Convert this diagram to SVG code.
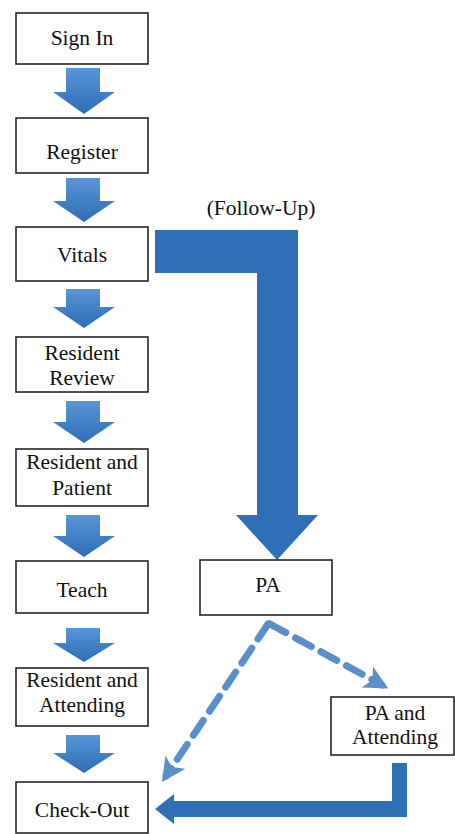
<svg xmlns="http://www.w3.org/2000/svg" width="455" height="834" viewBox="0 0 455 834">
<style>
.box{fill:#fff;stroke:#262626;stroke-width:1.6}
.t{font-family:"Times New Roman",Times,Tinos,"Nimbus Roman","Nimbus Roman No9 L","Noto Serif","DejaVu Serif",FreeSerif,"Liberation Serif",serif;font-size:21.5px;fill:#111;text-anchor:middle}
.arr{fill:url(#g)}
.big{fill:#2f6fb5}
.dash{fill:none;stroke:#5b8fcb;stroke-width:7;stroke-dasharray:18 11;stroke-linecap:round}
</style>
<defs>
<linearGradient id="g" x1="0" y1="0" x2="0" y2="1">
<stop offset="0" stop-color="#5896d8"/>
<stop offset="1" stop-color="#2f6db4"/>
</linearGradient>
<marker id="dh" viewBox="0 0 10 10" refX="7" refY="5" markerWidth="3.4" markerHeight="3.4" orient="auto" markerUnits="strokeWidth">
<path d="M0,0 L10,5 L0,10 L2.5,5 Z" fill="#5b8fcb"/>
</marker>
</defs>
<g id="connectors">
<polygon class="arr" points="66,68 100,68 100,92 115,92 84,114 53,92 66,92"/>
<polygon class="arr" points="66,178 100,178 100,201 115,201 84,222 53,201 66,201"/>
<polygon class="arr" points="66,289 100,289 100,307 115,307 84,328 53,307 66,307"/>
<polygon class="arr" points="66,401 100,401 100,422 115,422 84,443 53,422 66,422"/>
<polygon class="arr" points="66,515 100,515 100,536 115,536 84,557 53,536 66,536"/>
<polygon class="arr" points="66,628 100,628 100,643 115,643 84,662 53,643 66,643"/>
<polygon class="arr" points="66,735 100,735 100,753 115,753 84,773 53,753 66,753"/>
<path class="big" d="M155,230 L298,230 L298,515 L318,515 L277,560 L236,515 L257,515 L257,273 L155,273 Z"/>
<path class="big" d="M407,763 L407,817 L174,817 L174,824 L155,809 L174,794 L174,801 L392,801 L392,763 Z"/>
<path class="dash" d="M268,624 L166,776" marker-end="url(#dh)"/>
<path class="dash" d="M270,624 L382,685" marker-end="url(#dh)"/>
<text class="t" x="261" y="215">(Follow-Up)</text>
</g>
<g id="sign-in"><rect class="box" x="16" y="13" width="132" height="51"/><text class="t" x="82" y="45">Sign In</text></g>
<g id="register"><rect class="box" x="16" y="118" width="132" height="55"/><text class="t" x="82" y="159">Register</text></g>
<g id="vitals"><rect class="box" x="16" y="227" width="132" height="54"/><text class="t" x="82" y="262">Vitals</text></g>
<g id="resident-review"><rect class="box" x="16" y="337" width="132" height="55"/><text class="t" x="82" y="360">Resident</text><text class="t" x="82" y="385">Review</text></g>
<g id="resident-patient"><rect class="box" x="16" y="449" width="132" height="57"/><text class="t" x="82" y="469">Resident and</text><text class="t" x="82" y="495">Patient</text></g>
<g id="teach"><rect class="box" x="16" y="561" width="132" height="52"/><text class="t" x="82" y="597">Teach</text></g>
<g id="resident-attending"><rect class="box" x="16" y="668" width="132" height="58"/><text class="t" x="82" y="687">Resident and</text><text class="t" x="82" y="712">Attending</text></g>
<g id="check-out"><rect class="box" x="16" y="782" width="132" height="51"/><text class="t" x="82" y="817">Check-Out</text></g>
<g id="pa"><rect class="box" x="200" y="560" width="132" height="55"/><text class="t" x="268" y="592">PA</text></g>
<g id="pa-attending"><rect class="box" x="331" y="697" width="123" height="58"/><text class="t" x="395" y="720">PA and</text><text class="t" x="395" y="744">Attending</text></g>
</svg>
